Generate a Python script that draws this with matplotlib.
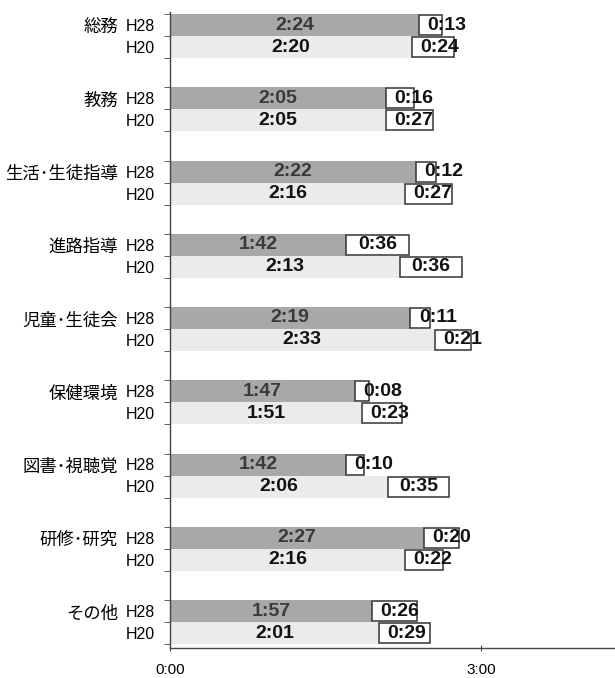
import numpy as np
import matplotlib.pyplot as plt
from matplotlib.transforms import blended_transform_factory

categories = ['総務', '教務', '生活･生徒指導', '進路指導', '児童･生徒会',
              '保健環境', '図書･視聴覚', '研修･研究', 'その他']
years = ['H28', 'H20']
# minutes
h28_main = [144, 125, 142, 102, 139, 107, 102, 147, 117]
h28_extra = [13, 16, 12, 36, 11, 8, 10, 20, 26]
h20_main = [140, 125, 136, 133, 153, 111, 126, 136, 121]
h20_extra = [24, 27, 27, 36, 21, 23, 35, 22, 29]
xticks = [0, 180]


def hm(m):
    return '%d:%02d' % (m // 60, m % 60)


plt.rcParams['font.family'] = ['Liberation Sans', 'Noto Sans CJK JP', 'DejaVu Sans']

fig = plt.figure(figsize=(6.15, 6.78), dpi=100)
ax = fig.add_axes([170/615, 1 - 648/678, 1 - 170/615, 636/678])

pitch = 73.25
y28 = 25 + pitch*np.arange(len(categories))
y20 = y28 + 22
bh = 22

rows = [(y28, h28_main, h28_extra, '#a8a8a8', '#3a3a3a'),
        (y20, h20_main, h20_extra, '#ebebeb', '#111111')]
for ys, main, extra, col, tcol in rows:
    ax.barh(ys, main, height=bh, color=col, edgecolor='none')
    ax.barh(ys, extra, left=main, height=bh - 2, color='white',
            edgecolor='#333333', linewidth=1.1)
    for y, m, e in zip(ys, main, extra):
        ax.text(m/2, y, hm(m), ha='center', va='center', fontsize=14,
                fontweight='bold', color=tcol)
        ax.text(m + max(e/2, 16), y, hm(e), ha='center', va='center',
                fontsize=14, fontweight='bold', color='#111111')

ax.set_xlim(0, 445/1.73)
ax.set_ylim(648, 12)

yt = np.concatenate([y28, y20])
ax.set_yticks(yt)
ax.set_yticklabels([years[0]]*len(y28) + [years[1]]*len(y20), fontsize=11.5)
ax.tick_params(axis='y', which='major', length=0, pad=11)
edges = np.concatenate([y28 - bh/2, y28 + bh/2, y20 + bh/2])
ax.set_yticks(edges, minor=True)
ax.tick_params(axis='y', which='minor', length=4, direction='out', color='#444444')

ax.set_xticks(xticks)
ax.set_xticklabels([hm(t) for t in xticks], fontsize=11)
ax.tick_params(axis='x', length=4, direction='inout', pad=9, color='#444444')

trans = blended_transform_factory(ax.transAxes, ax.transData)
for y, c in zip(y28, categories):
    ax.text(-52/445, y + 2.5, c, transform=trans, ha='right', va='center',
            fontsize=12.5, family=['Noto Sans CJK JP', 'DejaVu Sans'])

for s in ['top', 'right']:
    ax.spines[s].set_visible(False)
for s in ['left', 'bottom']:
    ax.spines[s].set_color('#444444')
    ax.spines[s].set_linewidth(1)

fig.savefig('out.png', dpi=100)
